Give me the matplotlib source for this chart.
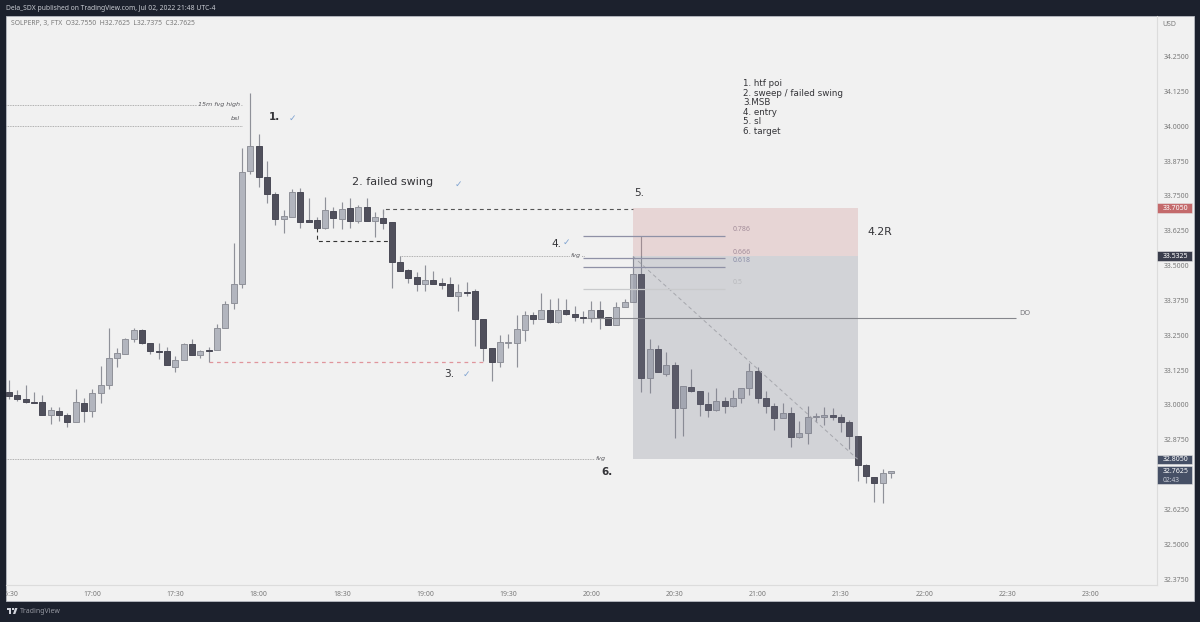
import numpy as np
import matplotlib
matplotlib.use('Agg')
import matplotlib.pyplot as plt
from matplotlib.patches import Rectangle
from matplotlib.transforms import Bbox, TransformedBbox

# SOLPERP 3 minute candles
opens = [33.047,33.034,33.022,33.010,33.009,32.965,32.979,32.965,32.937,33.008,32.979,33.044,33.070,33.169,33.184,33.236,33.270,33.221,33.193,33.192,
         33.135,33.162,33.219,33.179,33.197,33.196,33.276,33.364,33.433,33.840,33.929,33.819,33.755,33.666,33.675,33.764,33.662,33.662,33.636,33.697,
         33.668,33.705,33.661,33.710,33.661,33.672,33.656,33.511,33.484,33.458,33.433,33.449,33.436,33.433,33.392,33.406,33.407,33.308,33.205,33.154,
         33.222,33.223,33.270,33.322,33.309,33.339,33.297,33.339,33.325,33.314,33.311,33.339,33.316,33.285,33.351,33.369,33.469,33.097,33.200,33.110,
         33.143,32.988,33.064,33.049,33.003,32.981,33.015,32.996,33.023,33.059,33.122,33.023,32.996,32.954,32.970,32.886,32.898,32.955,32.956,32.962,
         32.956,32.939,32.889,32.784,32.742,32.720,32.755]
closes = [33.033,33.021,33.009,33.008,32.965,32.980,32.965,32.938,33.009,32.979,33.042,33.070,33.169,33.185,33.236,33.267,33.221,33.192,33.191,33.143,
          33.162,33.219,33.179,33.194,33.194,33.276,33.362,33.433,33.836,33.929,33.819,33.755,33.666,33.678,33.765,33.657,33.657,33.635,33.698,33.669,
          33.702,33.661,33.709,33.661,33.673,33.654,33.511,33.481,33.456,33.433,33.449,33.435,33.431,33.391,33.404,33.401,33.308,33.204,33.154,33.224,
          33.225,33.271,33.322,33.309,33.339,33.297,33.339,33.325,33.314,33.311,33.339,33.315,33.285,33.352,33.369,33.469,33.097,33.200,33.117,33.144,
          32.988,33.068,33.049,33.003,32.981,33.015,32.996,33.023,33.059,33.122,33.023,32.997,32.954,32.970,32.886,32.898,32.956,32.959,32.962,32.956,
          32.939,32.889,32.784,32.744,32.720,32.754,32.7625]
highs = [33.089,33.053,33.071,33.045,33.035,32.993,32.993,32.972,33.056,33.023,33.057,33.140,33.275,33.204,33.241,33.277,33.273,33.221,33.221,33.209,
         33.175,33.221,33.235,33.197,33.206,33.290,33.374,33.582,33.923,34.120,33.973,33.875,33.765,33.699,33.773,33.777,33.742,33.673,33.747,33.711,
         33.728,33.742,33.716,33.742,33.692,33.702,33.656,33.534,33.489,33.478,33.502,33.480,33.454,33.459,33.434,33.440,33.415,33.308,33.205,33.250,
         33.254,33.321,33.336,33.333,33.400,33.380,33.383,33.379,33.355,33.338,33.373,33.374,33.316,33.369,33.380,33.534,33.606,33.235,33.216,33.188,
         33.153,33.068,33.130,33.049,33.046,33.060,33.029,33.053,33.059,33.149,33.135,33.050,33.005,33.008,32.991,32.941,32.997,32.970,32.991,32.989,
         32.966,32.946,32.889,32.787,32.742,32.769,32.7625]
lows = [33.021,33.015,33.007,33.005,32.965,32.931,32.943,32.921,32.937,32.938,32.957,33.008,33.057,33.137,33.181,33.224,33.219,33.182,33.166,33.143,
        33.118,33.162,33.178,33.169,33.154,33.196,33.276,33.343,33.418,33.827,33.781,33.725,33.645,33.615,33.673,33.636,33.656,33.635,33.632,33.636,
        33.632,33.636,33.651,33.661,33.602,33.632,33.418,33.481,33.438,33.408,33.410,33.435,33.415,33.391,33.337,33.391,33.211,33.156,33.087,33.137,
        33.205,33.137,33.230,33.290,33.309,33.292,33.294,33.322,33.302,33.294,33.298,33.272,33.285,33.285,33.350,33.369,33.047,33.041,33.117,33.105,
        32.882,32.888,33.046,32.961,32.957,32.979,32.970,32.993,33.008,33.035,33.008,32.972,32.910,32.954,32.850,32.881,32.860,32.938,32.928,32.946,
        32.903,32.843,32.727,32.718,32.652,32.647,32.7375]

# 32.75 sits under the last price tag on the chart, so it has no label
price_ticks = [34.25,34.125,34.0,33.875,33.75,33.625,33.5,33.375,33.25,33.125,33.0,32.875,32.625,32.5,32.375]
time_ticks = [0,10,20,30,40,50,60,70,80,90,100,110,120,130]
time_labels = ['16:30','17:00','17:30','18:00','18:30','19:00','19:30','20:00','20:30','21:00','21:30','22:00','22:30','23:00']

stop = 33.705
entry = 33.5325
target = 32.805
last = 32.7625
fib_levels = [0.786,0.666,0.618,0.5]
fib_prices = [33.606,33.526,33.495,33.416]
fib_colors = ['#8f91a6','#8f91a6','#8f91a6','#c9cacc']
fib_text = ['#a38d9a','#a38d9a','#8b8ea8','#b9babd']
do_price = 33.312
bsl = 34.002
fvg_high_15m = 34.076
fvg_upper = 33.534
swing_high = 33.702
swing_low = 33.587
sweep_low = 33.154

BG = '#f1f1f1'
FRAME = '#1c212d'
UP = '#b2b5be'
DOWN = '#50505c'
WICK = '#8f9199'
TXT = '#7b7b7b'
W, H = 1200, 622
plt.rcParams['font.family'] = ['Noto Sans', 'DejaVu Sans']

fig = plt.figure(figsize=(12, 6.22), dpi=100, facecolor=FRAME)


def fx(x):
    return x / W


def fy(y):
    return 1 - y / H


def label(x, y, s, **kw):
    kw.setdefault('va', 'center')
    return fig.text(fx(x), fy(y), s, **kw)


fig.patches.append(Rectangle((fx(6), fy(601)), (1194 - 6) / W, (601 - 16) / H, transform=fig.transFigure,
                             fc=BG, ec='#b8bbc2', lw=0.6, figure=fig, zorder=-1))

ax = fig.add_axes([fx(6), fy(585), (1156.5 - 6) / W, (585 - 16) / H])
ax.patch.set_alpha(0)
ax.set_xlim(-0.36, 137.92)
ax.set_ylim(34.25 - (585 - 56.5) / 278.67, 34.25 + (56.5 - 16) / 278.67)

# candles
bars = np.arange(len(opens))
o = np.array(opens)
c = np.array(closes)
colors = [UP if c[i] >= o[i] else DOWN for i in bars]
edges = [WICK if c[i] >= o[i] else '#4a4a56' for i in bars]
ax.vlines(bars, lows, highs, color=WICK, lw=0.85, zorder=2)
ax.bar(bars, np.abs(c - o), bottom=np.minimum(o, c), width=0.72, color=colors, edgecolor=edges, linewidth=0.7, zorder=3)

# position tool
ax.add_patch(Rectangle((75, entry), 27, stop - entry, fc=(205/255, 133/255, 133/255), alpha=0.25, ec='none', zorder=4))
ax.add_patch(Rectangle((75, target), 27, entry - target, fc=(121/255, 122/255, 141/255), alpha=0.25, ec='none', zorder=4))
ax.plot([75, 102], [entry, target], color='#a6a7ad', lw=0.7, ls=(0, (4, 3)), zorder=5)

# levels
ax.hlines(fvg_high_15m, -0.36, 28, color='#9a9a9a', lw=0.6, ls=(0, (1, 1)), zorder=1)
ax.hlines(bsl, -0.36, 28, color='#9a9a9a', lw=0.6, ls=(0, (1, 1)), zorder=1)
ax.hlines(fvg_upper, 47, 69.2, color='#9a9a9a', lw=0.6, ls=(0, (1, 1)), zorder=1)
ax.hlines(target, -0.36, 70.4, color='#9a9a9a', lw=0.6, ls=(0, (1, 1)), zorder=1)
ax.plot([45, 45, 75], [33.66, swing_high, swing_high], color='#555555', lw=0.8, ls=(0, (3.5, 3)), zorder=1)
ax.plot([37, 37, 46], [33.635, swing_low, swing_low], color='#333333', lw=0.8, ls=(0, (3.5, 3)), zorder=1)
ax.hlines(sweep_low, 24, 57, color='#e0959c', lw=0.9, ls=(0, (3, 3)), zorder=1)
ax.hlines(do_price, 69.5, 121, color='#85868c', lw=0.8, zorder=6)
for lev, p, col, tc in zip(fib_levels, fib_prices, fib_colors, fib_text):
    ax.hlines(p, 69, 86, color=col, lw=0.9, zorder=5)
    ax.text(87, p + 0.022, str(lev), color=tc, fontsize=5, va='center', zorder=6)

# axes
for s in ['top', 'left']:
    ax.spines[s].set_visible(False)
ax.spines['bottom'].set_color('#dcdcdc')
ax.spines['right'].set_color('#dcdcdc')
ax.spines['bottom'].set_linewidth(0.8)
ax.spines['right'].set_linewidth(0.8)
ax.yaxis.tick_right()
ax.set_yticks(price_ticks)
ax.set_yticklabels(['%.4f' % p for p in price_ticks])
ax.set_xticks(time_ticks)
ax.set_xticklabels(time_labels)
ax.tick_params(axis='y', length=0, pad=5, labelsize=5, labelcolor=TXT)
ax.tick_params(axis='x', length=0, pad=4, labelsize=5, labelcolor=TXT)
clip = TransformedBbox(Bbox([[fx(6), 0], [1, 1]]), fig.transFigure)
for t in ax.get_xticklabels():
    t.set_clip_box(clip)
    t.set_clip_on(True)

# price tags
ytr = ax.get_yaxis_transform()
tag_w = 35 / 1150.5
tag_px = 1 / 278.67
for p, col, up, down in [(stop, '#c46a6c', 5, 5), (entry, '#3a3d4c', 5, 5), (target, '#465066', 4.5, 4.5), (last, '#465066', 5.5, 13)]:
    ax.add_patch(Rectangle((1.0, p - down * tag_px), tag_w, (up + down) * tag_px, transform=ytr, fc=col, ec='#e6e6e6', lw=0.4,
                           clip_on=False, zorder=7))
    ax.text(1 + 6.5 / 1150.5, p, '%.4f' % p, transform=ytr, color='white', fontsize=5, fontweight='medium', va='center', clip_on=False, zorder=8)
ax.text(1 + 6.5 / 1150.5, last - 9.5 * tag_px, '02:43', transform=ytr, color='#c8ccd6', fontsize=4.8, va='center', clip_on=False, zorder=8)

# header and footer
label(6, 8.5, 'Dela_SDX published on TradingView.com, Jul 02, 2022 21:48 UTC-4', color='#c9ccd3', fontsize=4.85)
label(10.5, 24, 'SOLPERP, 3, FTX  O32.7550  H32.7625  L32.7375  C32.7625', color=TXT, fontsize=4.9)
label(1162.5, 24, 'USD', color=TXT, fontsize=5)
label(20, 611.5, 'TradingView', color='#9598a1', fontsize=5)
for x0, y0, w, h in [(6.5, 608, 4.5, 1.8), (8.8, 608, 2.2, 6), (11.8, 608, 2, 2)]:
    fig.patches.append(Rectangle((fx(x0), fy(y0 + h)), w / W, h / H, transform=fig.transFigure, fc='#d1d4dc', ec='none', figure=fig))
fig.patches.append(plt.Polygon([[fx(13), fy(614)], [fx(15), fy(608)], [fx(17.5), fy(608)], [fx(15.3), fy(614)]],
                               transform=fig.transFigure, fc='#d1d4dc', ec='none', figure=fig))

# annotations
note = dict(family=['DejaVu Sans'], color='#343438')
label(269, 117, '1.', fontsize=7.5, fontweight='bold', **note)
label(352, 182, '2. failed swing', fontsize=8, **note)
label(444, 374, '3.', fontsize=7.6, **note)
label(551, 244, '4.', fontsize=7.6, **note)
label(634, 193, '5.', fontsize=7.6, **note)
label(601, 472, '6.', fontsize=7.5, fontweight='bold', **note)
label(867, 232, '4.2R', fontsize=7.8, **note)
for x, y in [(292, 118), (458, 184), (466, 374), (566, 242)]:
    label(x, y, '\u2713', family=['DejaVu Sans'], color='#7fa3d1', fontsize=6.5, ha='center', fontweight='bold')

steps = ['1. htf poi', '2. sweep / failed swing', '3.MSB', '4. entry', '5. sl', '6. target']
for i, s in enumerate(steps):
    label(743, 84 + i * 9.4, s, fontsize=6.35, **note)

italic = dict(family=['DejaVu Sans'], style='italic', color='#55555a', fontsize=4.6, ha='right')
gap = dict(fc=BG, ec='none', pad=0.6)
label(240, 104.5, '15m fvg high', bbox=gap, **italic)
label(240, 119, 'bsl', **italic)
label(581, 256, 'fvg', bbox=gap, **italic)
label(606, 458.5, 'fvg', bbox=gap, **italic)
label(1019, 313.5, 'DO', color='#77777c', fontsize=5.3)

fig.savefig('out.png', dpi=100, facecolor=FRAME)
